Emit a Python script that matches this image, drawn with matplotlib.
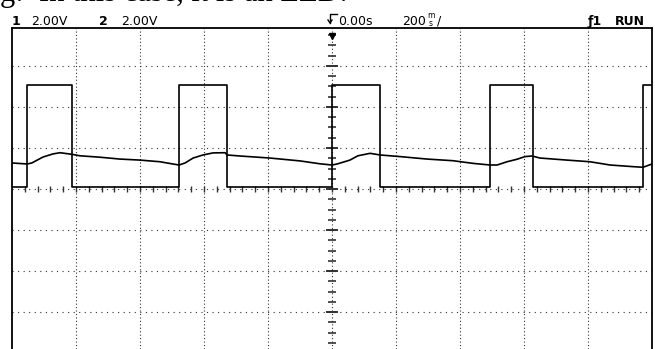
import matplotlib.pyplot as plt
import numpy as np

# scope settings: 200 ms/div, 2 V/div on both channels, trigger at t = 0
# channel 1: square drive signal (edge times in ms, level after each edge in V)
ch1_ms = [-1000, -953, -812, -478, -328, 0, 150, 494, 628, 972, 1000]
ch1_volts = [0.1, 5.07, 0.1, 5.07, 0.1, 5.07, 0.1, 5.07, 0.1, 5.07, 5.07]

# channel 2: slow ramp signal
ch2_ms = [-1000, -953, -938, -903, -872, -850, -812, -788, -725, -663, -600,
          -538, -497, -478, -459, -434, -403, -372, -334, -328, -288, -194,
          -100, -38, 0, 16, 56, 81, 119, 150, 213, 297, 378, 441, 494, 516,
          547, 578, 603, 625, 650, 734, 806, 869, 941, 972, 1000]
ch2_volts = [1.27, 1.22, 1.27, 1.56, 1.71, 1.77, 1.69, 1.62, 1.55, 1.46, 1.41,
             1.33, 1.22, 1.17, 1.27, 1.51, 1.66, 1.76, 1.77, 1.66, 1.61, 1.51,
             1.37, 1.23, 1.17, 1.22, 1.41, 1.62, 1.74, 1.66, 1.58, 1.46, 1.38,
             1.25, 1.17, 1.17, 1.33, 1.45, 1.58, 1.61, 1.51, 1.41, 1.33, 1.17,
             1.09, 1.06, 1.22]

W, H = 655, 349
fig = plt.figure(figsize=(W / 100, H / 100), dpi=100)


def fx(px):
    return px / W


def fy(py):
    return 1 - py / H


# screen area (bottom runs off the picture)
ax = fig.add_axes([fx(12), 0, fx(652) - fx(12), fy(28)])
ax.set_xlim(-1000, 1000)
ax.set_ylim(-7.80, 7.85)
ax.set_xticks([])
ax.set_yticks([])
for s in ['left', 'right', 'top']:
    ax.spines[s].set_linewidth(1.3)
ax.spines['bottom'].set_visible(False)

# dotted graticule
for x in range(-800, 1000, 200):
    ax.axvline(x, color='#333333', lw=0.8, linestyle=(0, (1, 2.1)), zorder=1)
for y in [-6, -4, -2, 0, 2, 4, 6]:
    ax.axhline(y, color='#333333', lw=0.8, linestyle=(0, (1, 4.0)), zorder=1)

# centre axes tick marks
ax.vlines(np.arange(-960, 1000, 40), -0.15, 0.15, color='#333333', lw=1.0, zorder=1)
minor = np.arange(-7.5, 8, 0.5)
ax.hlines(minor, -11, 11, color='#333333', lw=1.2, zorder=1)
ax.hlines(np.arange(-6, 7, 2), -20, 20, color='#333333', lw=1.4, zorder=1)

# traces
ax.plot(ch1_ms, ch1_volts, drawstyle='steps-post', color='black', lw=1.2, zorder=3)
ax.plot(ch2_ms, ch2_volts, color='black', lw=1.2, zorder=3)

# trigger position marker
ax.plot([0], [7.45], marker='v', color='black', ms=5, clip_on=False, zorder=4)

# status line
font = 'DejaVu Sans'
fs = 9
fig.text(fx(12), fy(25), '1', fontsize=fs, fontweight='bold', family=font, va='baseline')
fig.text(fx(31), fy(25), '2.00V', fontsize=fs, family=font, va='baseline')
fig.text(fx(99), fy(25), '2', fontsize=fs, fontweight='bold', family=font, va='baseline')
fig.text(fx(121), fy(25), '2.00V', fontsize=fs, family=font, va='baseline')

# trigger reference symbol
fig.add_artist(plt.Line2D([fx(330), fx(330), fx(337)], [fy(23), fy(14), fy(14)],
                          color='black', lw=1.0))
fig.add_artist(plt.Line2D([fx(328), fx(330), fx(332)], [fy(20), fy(23), fy(20)],
                          color='black', lw=1.0))
fig.text(fx(338), fy(25), '0.00s', fontsize=fs, family=font, va='baseline')
fig.text(fx(402), fy(25), '200', fontsize=fs, family=font, va='baseline')
fig.text(fx(431), fy(19.5), 'm', fontsize=5.5, family=font, va='bottom', ha='center')
fig.text(fx(431), fy(19.5), 's', fontsize=5.5, family=font, va='top', ha='center')
fig.text(fx(437), fy(25), '/', fontsize=fs, family=font, va='baseline')
fig.text(fx(588), fy(25), 'ƒ1', fontsize=fs, fontweight='bold', family=font, va='baseline')
fig.text(fx(615), fy(25), 'RUN', fontsize=fs, fontweight='bold', family=font, va='baseline')

# bottom of the document line above the screenshot
fig.text(fx(0), fy(1), 'g:  In this case, it is an LED.', fontsize=22,
         family='Liberation Serif', va='baseline')

fig.savefig('out.png', dpi=100)
